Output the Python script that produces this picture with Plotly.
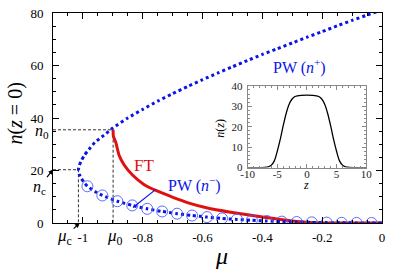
import plotly.graph_objects as go

# ---------------- data ----------------
mu0, n0 = -0.899, 35.5
muc, nc = -1.015, 20.3

# PW upper branch n+ (from mu=0 down to the turning point)
pw_up_mu = [0.0, -0.05, -0.1, -0.15, -0.2, -0.25, -0.3, -0.35, -0.4, -0.45, -0.5, -0.55, -0.6, -0.65,
            -0.7, -0.75, -0.8, -0.85, -0.9, -0.93, -0.96, -0.98, -0.995, -1.005, -1.012, -1.015]
pw_up_n = [81.2, 79.2, 77.2, 75.1, 72.9, 70.8, 68.6, 66.4, 64.2, 61.9, 59.5, 57.1, 54.6, 52.0,
           49.3, 46.4, 43.3, 40.0, 36.2, 33.4, 30.7, 28.0, 25.8, 23.8, 22.0, 20.3]

# PW lower branch n- (from the turning point to mu=0)
pw_lo_mu = [-1.015, -1.012, -1.005, -0.995, -0.985, -0.96, -0.935, -0.885, -0.835, -0.785, -0.735, -0.685,
            -0.635, -0.585, -0.535, -0.485, -0.435, -0.385, -0.335, -0.285, -0.235, -0.185, -0.135, -0.085,
            -0.035, 0.0]
pw_lo_n = [20.3, 18.6, 16.9, 15.3, 14.0, 12.0, 10.5, 8.3, 6.7, 5.4, 4.4, 3.55,
           2.85, 2.25, 1.75, 1.35, 1.02, 0.75, 0.53, 0.37, 0.24, 0.15, 0.08, 0.035,
           0.006, 0.0]

# open circles on the lower branch
circ_mu = [-0.985, -0.935, -0.885, -0.835, -0.785, -0.735, -0.685, -0.635, -0.585, -0.535,
           -0.485, -0.435, -0.385, -0.335, -0.285, -0.235, -0.185, -0.135, -0.085, -0.035]
circ_n = [14.0, 10.5, 8.3, 6.7, 5.4, 4.4, 3.55, 2.85, 2.25, 1.75,
          1.35, 1.02, 0.75, 0.53, 0.37, 0.24, 0.15, 0.08, 0.035, 0.006]

# FT curve
ft_mu = [-0.899, -0.898, -0.890, -0.879, -0.862, -0.835, -0.796, -0.752, -0.697, -0.642, -0.587,
         -0.506, -0.394, -0.285, -0.2, -0.1, 0.0]
ft_n = [35.5, 33.0, 30.7, 25.8, 22.1, 18.4, 14.7, 12.2, 9.7, 7.5, 5.8,
        4.1, 2.2, 0.6, 0.0, 0.0, 0.0]

# inset density profile n(z)
z_vals = [-10, -8, -7, -6.5, -6, -5.5, -5, -4.5, -4, -3.5, -3, -2.5, -2, -1, 0,
          1, 2, 2.5, 3, 3.5, 4, 4.5, 5, 5.5, 6, 6.5, 7, 8, 10]
nz_vals = [0, 0, 0.1, 0.4, 1.2, 3.3, 8.0, 13.8, 20.5, 26.5, 31.0, 33.6, 34.8, 35.4, 35.5,
           35.4, 34.8, 33.6, 31.0, 26.5, 20.5, 13.8, 8.0, 3.3, 1.2, 0.4, 0.1, 0, 0]

x_ticks = [-1, -0.8, -0.6, -0.4, -0.2, 0]
x_ticktext = ["-1", "-0.8", "-0.6", "-0.4", "-0.2", "0"]
y_ticks = [0, 20, 40, 60, 80]
zin_ticks = [-10, -5, 0, 5, 10]
zin_ticktext = ["-10", "-5", "0", "5", "10"]
nin_ticks = [0, 10, 20, 30, 40]

# ---------------- layout geometry ----------------
W, H = 395, 272
L, R, T, B = 53, 9, 7, 49
PW_ = W - L - R
PH_ = H - T - B


def px(xp):
    return (xp - L) / PW_


def py(yp):
    return (H - B - yp) / PH_


FONT = "Times New Roman, Liberation Serif, DejaVu Serif, serif"
BLUE = "#0a14e6"
RED = "#e01010"

fig = go.Figure()

# dashed guide lines
fig.add_trace(go.Scatter(x=[-1.1, mu0, mu0], y=[n0, n0, 0], mode="lines",
                         line=dict(color="#333", width=1, dash="3px,2px"), showlegend=False, hoverinfo="skip"))
fig.add_trace(go.Scatter(x=[-1.1, muc, muc], y=[nc, nc, 0], mode="lines",
                         line=dict(color="#333", width=1, dash="3px,2px"), showlegend=False, hoverinfo="skip"))

# FT
fig.add_trace(go.Scatter(x=ft_mu, y=ft_n, mode="lines", line=dict(color=RED, width=3, shape="spline", smoothing=0.6),
                         showlegend=False))

# PW dotted curve
pw_mu = pw_up_mu + pw_lo_mu[1:]
pw_n = pw_up_n + pw_lo_n[1:]
fig.add_trace(go.Scatter(x=pw_mu, y=pw_n, mode="lines",
                         line=dict(color=BLUE, width=3, dash="3px,3px", shape="spline", smoothing=0.5),
                         showlegend=False))

# open circles
fig.add_trace(go.Scatter(x=circ_mu, y=circ_n, mode="markers",
                         marker=dict(symbol="circle-open", size=11, color="#4a5cff", line=dict(width=0.9)),
                         showlegend=False))

# inset
fig.add_trace(go.Scatter(x=z_vals, y=nz_vals, mode="lines", xaxis="x2", yaxis="y2",
                         line=dict(color="black", width=1.3, shape="spline", smoothing=0.8), showlegend=False))

axis_common = dict(showline=True, linecolor="black", linewidth=1, mirror="allticks", ticks="inside",
                   tickcolor="black", showgrid=False, zeroline=False,
                   tickfont=dict(family=FONT, size=13, color="black"))

fig.update_layout(
    width=W, height=H,
    margin=dict(l=L, r=R, t=T, b=B),
    paper_bgcolor="white", plot_bgcolor="white",
    font=dict(family=FONT),
    xaxis=dict(range=[-1.1, 0], tickmode="array", tickvals=x_ticks, ticktext=x_ticktext, ticklen=6,
               ticklabelstandoff=2,
               minor=dict(tickmode="linear", tick0=0, dtick=0.05, ticks="inside", ticklen=3, tickcolor="black"),
               **axis_common),
    yaxis=dict(range=[0, 80], tickmode="array", tickvals=y_ticks, ticklen=6, ticklabelstandoff=6,
               minor=dict(tickmode="linear", tick0=0, dtick=5, ticks="inside", ticklen=3, tickcolor="black"),
               **axis_common),
    xaxis2=dict(domain=[px(250), px(370)], anchor="y2", range=[-10, 10], tickmode="array",
                tickvals=zin_ticks, ticktext=zin_ticktext, showline=True, linecolor="#888", linewidth=1,
                mirror="allticks", ticks="inside", ticklen=4, tickcolor="#888", showgrid=False, zeroline=False,
                tickfont=dict(family=FONT, size=11, color="#222"), ticklabelstandoff=-4,
                minor=dict(tickmode="linear", tick0=0, dtick=1, ticks="inside", ticklen=2, tickcolor="#888")),
    yaxis2=dict(domain=[py(166), py(82)], anchor="x2", range=[0, 40], tickmode="array",
                tickvals=nin_ticks, showline=True, linecolor="#888", linewidth=1,
                mirror="allticks", ticks="inside", ticklen=4, tickcolor="#888", showgrid=False, zeroline=False,
                tickfont=dict(family=FONT, size=11, color="#222"), ticklabelstandoff=2,
                minor=dict(tickmode="linear", tick0=0, dtick=2, ticks="inside", ticklen=2, tickcolor="#888")),
)

ann = []


def txt(xp, yp, text, size, color="black", xanchor="center", angle=0):
    ann.append(dict(x=px(xp), y=py(yp), xref="paper", yref="paper", text=text, showarrow=False,
                    xanchor=xanchor, yanchor="middle", textangle=angle,
                    font=dict(family=FONT, size=size, color=color)))


# axis titles
txt(15, 110, "<i>n</i>(<i>z</i> = 0)", 20, angle=-90)
txt(224, 257, "<i>μ</i>", 24)
# inset titles
txt(222, 125, "<i>n</i>(<i>z</i>)", 12, angle=-90)
txt(309, 184, "<i>z</i>", 12)
# markers of n0, mu0
txt(51, 129, "<i>n</i><sub>0</sub>", 16, xanchor="right")
txt(116, 237, "<i>μ</i><sub>0</sub>", 17)
# curve labels
txt(145, 164, "FT", 17, color=RED)
txt(167, 183, "PW (<i>n</i><sup>−</sup>)", 16, color=BLUE, xanchor="left")
txt(303, 62, "PW (<i>n</i><sup>+</sup>)", 16, color=BLUE)

# arrows
ann.append(dict(x=px(53), y=py(168), xref="paper", yref="paper", ax=-14, ay=18,
                text="<i>n</i><sub>c</sub>", showarrow=True, arrowhead=2, arrowsize=0.8, arrowwidth=1.2,
                arrowcolor="black", standoff=0, font=dict(family=FONT, size=16, color="black")))
ann.append(dict(x=px(80), y=py(223), xref="paper", yref="paper", ax=-15, ay=14,
                text="<i>μ</i><sub>c</sub>", showarrow=True, arrowhead=2, arrowsize=0.8, arrowwidth=1.2,
                arrowcolor="black", standoff=0, font=dict(family=FONT, size=17, color="black")))
# PW(n-) pointer line
ann.append(dict(x=px(134), y=py(207), xref="paper", yref="paper", ax=24, ay=-19,
                text="", showarrow=True, arrowhead=0, arrowwidth=1.2, arrowcolor=BLUE, standoff=0))

fig.update_layout(annotations=ann)

fig.write_html("out.html", config={"displayModeBar": False},
               post_script="document.body.style.margin='0px';document.body.style.overflow='hidden';")
